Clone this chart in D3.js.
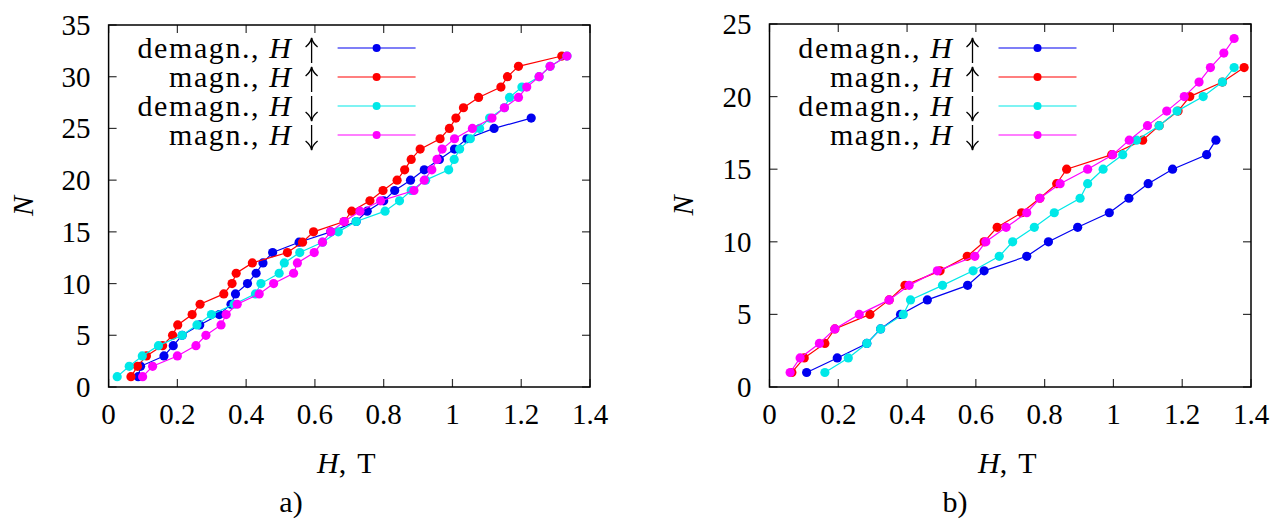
<!DOCTYPE html>
<html>
<head>
<meta charset="utf-8">
<script src="https://cdn.jsdelivr.net/npm/d3@7"></script>
<style>
  body { margin: 0; background: #fff; }
  text { font-family: "Liberation Serif", "Times New Roman", serif; fill: #000; }
</style>
</head>
<body>
<div id="chart"></div>
<script>
// panel a) -- H values (T) for N = 1, 2, 3, ...
var demagUpA = [0.086, 0.093, 0.161, 0.188, 0.214, 0.265, 0.322, 0.356, 0.369, 0.404, 0.429, 0.449, 0.477,
  0.554, 0.646, 0.720, 0.752, 0.800, 0.832, 0.878, 0.918, 0.962, 1.006, 1.042, 1.121, 1.229];
var magnUpA = [0.065, 0.084, 0.110, 0.157, 0.186, 0.201, 0.243, 0.266, 0.335, 0.359, 0.371, 0.418, 0.520,
  0.564, 0.596, 0.685, 0.707, 0.760, 0.798, 0.839, 0.861, 0.880, 0.906, 0.964, 0.991, 1.010, 1.032,
  1.076, 1.141, 1.160, 1.192, 1.318];
var demagDownA = [0.025, 0.060, 0.098, 0.145, 0.214, 0.257, 0.299, 0.365, 0.427, 0.443, 0.496, 0.511, 0.556,
  0.622, 0.668, 0.720, 0.804, 0.846, 0.880, 0.922, 0.989, 1.005, 1.021, 1.052, 1.079, 1.108, 1.151,
  1.166, 1.202, 1.252, 1.284, 1.333];
var magnDownA = [0.099, 0.128, 0.200, 0.254, 0.283, 0.327, 0.342, 0.374, 0.438, 0.480, 0.538, 0.549, 0.598,
  0.622, 0.646, 0.685, 0.731, 0.791, 0.888, 0.918, 0.940, 0.955, 0.970, 1.006, 1.058, 1.115, 1.151,
  1.192, 1.216, 1.252, 1.284, 1.333];

// panel b)
var demagUpB = [0.108, 0.197, 0.283, 0.323, 0.381, 0.459, 0.576, 0.624, 0.748, 0.811, 0.896, 0.988, 1.045,
  1.101, 1.172, 1.271, 1.298];
var magnUpB = [0.065, 0.101, 0.161, 0.190, 0.292, 0.348, 0.394, 0.496, 0.575, 0.624, 0.662, 0.733, 0.786,
  0.835, 0.864, 0.995, 1.085, 1.133, 1.188, 1.222, 1.317, 1.380];
var demagDownB = [0.161, 0.229, 0.283, 0.323, 0.389, 0.410, 0.503, 0.592, 0.668, 0.707, 0.770, 0.828, 0.903,
  0.925, 0.970, 1.027, 1.067, 1.133, 1.185, 1.261, 1.317, 1.351];
var magnDownB = [0.060, 0.089, 0.145, 0.190, 0.261, 0.348, 0.406, 0.488, 0.597, 0.629, 0.688, 0.748, 0.786,
  0.845, 0.925, 0.998, 1.046, 1.099, 1.155, 1.206, 1.249, 1.282, 1.321, 1.351];

var legendLabels = ["demagn., ", "magn., ", "demagn., ", "magn., "];
var legendArrows = ["up", "up", "down", "down"];
var seriesColors = ["#0000f0", "#ff0000", "#00e8e8", "#ff00ff"];
var xTicks = [0, 0.2, 0.4, 0.6, 0.8, 1, 1.2, 1.4];
var yTicksA = [0, 5, 10, 15, 20, 25, 30, 35];
var yTicksB = [0, 5, 10, 15, 20, 25];

var width = 1272, height = 521;
var fs = 29;

var svg = d3.select("#chart").append("svg")
    .attr("width", width)
    .attr("height", height);

function drawPanel(opt) {
  var x = d3.scaleLinear().domain([0, 1.4]).range([opt.left, opt.right]);
  var y = d3.scaleLinear().domain([0, opt.yMax]).range([opt.bottom, opt.top]);
  var g = svg.append("g");

  // ticks on all four sides, pointing inward
  var tl = 8;
  xTicks.forEach(function (t) {
    g.append("line").attr("x1", x(t)).attr("x2", x(t)).attr("y1", opt.bottom).attr("y2", opt.bottom - tl)
      .attr("stroke", "#333").attr("stroke-width", 1.2);
    g.append("line").attr("x1", x(t)).attr("x2", x(t)).attr("y1", opt.top).attr("y2", opt.top + tl)
      .attr("stroke", "#333").attr("stroke-width", 1.2);
    g.append("text").attr("x", x(t)).attr("y", opt.bottom + 37)
      .attr("text-anchor", "middle").attr("font-size", fs).text(t);
  });
  opt.yTicks.forEach(function (t) {
    g.append("line").attr("x1", opt.left).attr("x2", opt.left + tl).attr("y1", y(t)).attr("y2", y(t))
      .attr("stroke", "#333").attr("stroke-width", 1.2);
    g.append("line").attr("x1", opt.right).attr("x2", opt.right - tl).attr("y1", y(t)).attr("y2", y(t))
      .attr("stroke", "#333").attr("stroke-width", 1.2);
    g.append("text").attr("x", opt.left - 18).attr("y", y(t) + 10)
      .attr("text-anchor", "end").attr("font-size", fs).text(t);
  });

  // legend
  var rowY = [48, 77, 106, 135];
  legendLabels.forEach(function (lab, i) {
    var yc = rowY[i];
    var t = g.append("text").attr("x", opt.left + 184).attr("y", yc + 10)
      .attr("text-anchor", "end").attr("font-size", 30).attr("letter-spacing", 1.6);
    t.append("tspan").text(lab);
    t.append("tspan").attr("font-style", "italic").text("H");
    var ax = opt.left + 203;
    var tip, tail, d;
    if (legendArrows[i] == "up") {
      tip = yc - 10; tail = yc + 15;
      d = "M" + (ax - 6) + "," + (tip + 9) + " Q" + (ax - 1) + "," + (tip + 5) + " " + ax + "," + tip +
          " Q" + (ax + 1) + "," + (tip + 5) + " " + (ax + 6) + "," + (tip + 9);
    } else {
      tip = yc + 15; tail = yc - 10;
      d = "M" + (ax - 6) + "," + (tip - 9) + " Q" + (ax - 1) + "," + (tip - 5) + " " + ax + "," + tip +
          " Q" + (ax + 1) + "," + (tip - 5) + " " + (ax + 6) + "," + (tip - 9);
    }
    g.append("line").attr("x1", ax).attr("x2", ax).attr("y1", tail).attr("y2", tip)
      .attr("stroke", "#000").attr("stroke-width", 1.3);
    g.append("path").attr("d", d).attr("fill", "none").attr("stroke", "#000").attr("stroke-width", 1.3);

    g.append("line").attr("x1", opt.left + 229).attr("x2", opt.left + 307).attr("y1", yc).attr("y2", yc)
      .attr("stroke", seriesColors[i]).attr("stroke-width", 1.2);
    g.append("circle").attr("cx", opt.left + 268).attr("cy", yc).attr("r", 4)
      .attr("fill", seriesColors[i]);
  });

  // the four series, N = 1, 2, 3, ...
  var line = d3.line()
    .x(function (d) { return x(d); })
    .y(function (d, i) { return y(i + 1); });
  opt.series.forEach(function (s, k) {
    g.append("path").datum(s).attr("d", line)
      .attr("fill", "none").attr("stroke", seriesColors[k]).attr("stroke-width", 1.2);
    g.selectAll(null).data(s).enter().append("circle")
      .attr("cx", function (d) { return x(d); })
      .attr("cy", function (d, i) { return y(i + 1); })
      .attr("r", 4.6)
      .attr("fill", seriesColors[k]);
  });

  // frame
  g.append("rect").attr("x", opt.left).attr("y", opt.top)
    .attr("width", opt.right - opt.left).attr("height", opt.bottom - opt.top)
    .attr("fill", "none").attr("stroke", "#000").attr("stroke-width", 1.5);

  // axis titles
  g.append("text").attr("transform", "translate(" + opt.nx + "," + ((opt.top + opt.bottom) / 2) + ") rotate(-90)")
    .attr("text-anchor", "middle").attr("font-size", 30).attr("font-style", "italic").attr("dy", 10).text("N");
  var xt = g.append("text").attr("x", (opt.left + opt.right) / 2 - 3).attr("y", opt.bottom + 86)
    .attr("text-anchor", "middle").attr("font-size", 30);
  xt.append("tspan").attr("font-style", "italic").text("H");
  xt.append("tspan").text(",");
  xt.append("tspan").attr("dx", 11).text("T");
  g.append("text").attr("x", opt.capX).attr("y", opt.bottom + 125)
    .attr("text-anchor", "middle").attr("font-size", 30).text(opt.caption);
}

drawPanel({ left: 108.6, right: 590, top: 25, bottom: 387, yMax: 35, yTicks: yTicksA,
  series: [demagUpA, magnUpA, demagDownA, magnDownA], nx: 23, capX: 291, caption: "a)" });
drawPanel({ left: 769.5, right: 1251, top: 24, bottom: 387, yMax: 25, yTicks: yTicksB,
  series: [demagUpB, magnUpB, demagDownB, magnDownB], nx: 683, capX: 955, caption: "b)" });
</script>
</body>
</html>
